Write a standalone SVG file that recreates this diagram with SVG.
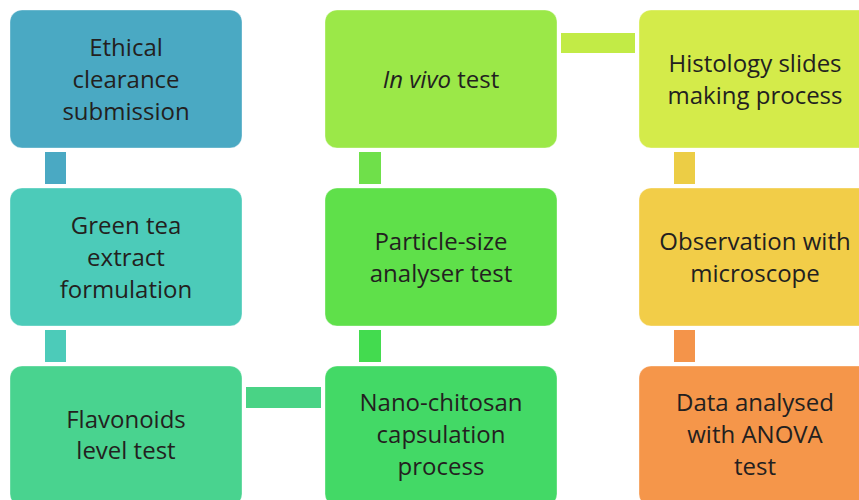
<svg xmlns="http://www.w3.org/2000/svg" width="859" height="500" viewBox="0 0 859 500">
<style>
.box{stroke:#ffffff;stroke-opacity:0.35;stroke-width:1}
.t{font-family:"Open Sans","Liberation Sans",sans-serif;font-size:24px;fill:#231f20;text-anchor:middle}
</style>
<rect width="859" height="500" fill="#ffffff"/>
<g id="connectors">
<rect x="45" y="152" width="21" height="32" fill="#4aa9c3"/>
<rect x="45" y="330" width="21" height="32" fill="#4ccbb9"/>
<rect x="246" y="387" width="75" height="21" fill="#49d385"/>
<rect x="359" y="330" width="22" height="32" fill="#43db4f"/>
<rect x="359" y="152" width="22" height="32" fill="#6fe04a"/>
<rect x="561" y="33" width="74" height="20" fill="#c2eb46"/>
<rect x="674" y="152" width="21" height="32" fill="#eccd45"/>
<rect x="674" y="330" width="21" height="32" fill="#f4944a"/>
</g>
<g id="n1"><rect class="box" x="10" y="10" width="232" height="138" rx="12" fill="#4aa9c3"/>
<text class="t" x="126" y="56">Ethical</text><text class="t" x="126" y="88">clearance</text><text class="t" x="126" y="120">submission</text></g>
<g id="n2"><rect class="box" x="10" y="188" width="232" height="138" rx="12" fill="#4ccbb9"/>
<text class="t" x="126" y="234">Green tea</text><text class="t" x="126" y="266">extract</text><text class="t" x="126" y="298">formulation</text></g>
<g id="n3"><rect class="box" x="10" y="366" width="232" height="140" rx="12" fill="#49d38f"/>
<text class="t" x="126" y="428">Flavonoids</text><text class="t" x="126" y="459">level test</text></g>
<g id="n4"><rect class="box" x="325" y="366" width="232" height="140" rx="12" fill="#43d966"/>
<text class="t" x="441" y="411">Nano-chitosan</text><text class="t" x="441" y="443">capsulation</text><text class="t" x="441" y="475">process</text></g>
<g id="n5"><rect class="box" x="325" y="188" width="232" height="138" rx="12" fill="#5fe04a"/>
<text class="t" x="441" y="250">Particle-size</text><text class="t" x="441" y="282">analyser test</text></g>
<g id="n6"><rect class="box" x="325" y="10" width="232" height="138" rx="12" fill="#9be848"/>
<text class="t" x="441" y="88"><tspan font-style="italic">In vivo</tspan> test</text></g>
<g id="n7"><rect class="box" x="639" y="10" width="232" height="138" rx="12" fill="#d4eb4a"/>
<text class="t" x="755" y="72">Histology slides</text><text class="t" x="755" y="104">making process</text></g>
<g id="n8"><rect class="box" x="639" y="188" width="232" height="138" rx="12" fill="#f2cd48"/>
<text class="t" x="755" y="250">Observation with</text><text class="t" x="755" y="282">microscope</text></g>
<g id="n9"><rect class="box" x="639" y="366" width="232" height="140" rx="12" fill="#f5964a"/>
<text class="t" x="755" y="411">Data analysed</text><text class="t" x="755" y="443">with ANOVA</text><text class="t" x="755" y="475">test</text></g>
</svg>
